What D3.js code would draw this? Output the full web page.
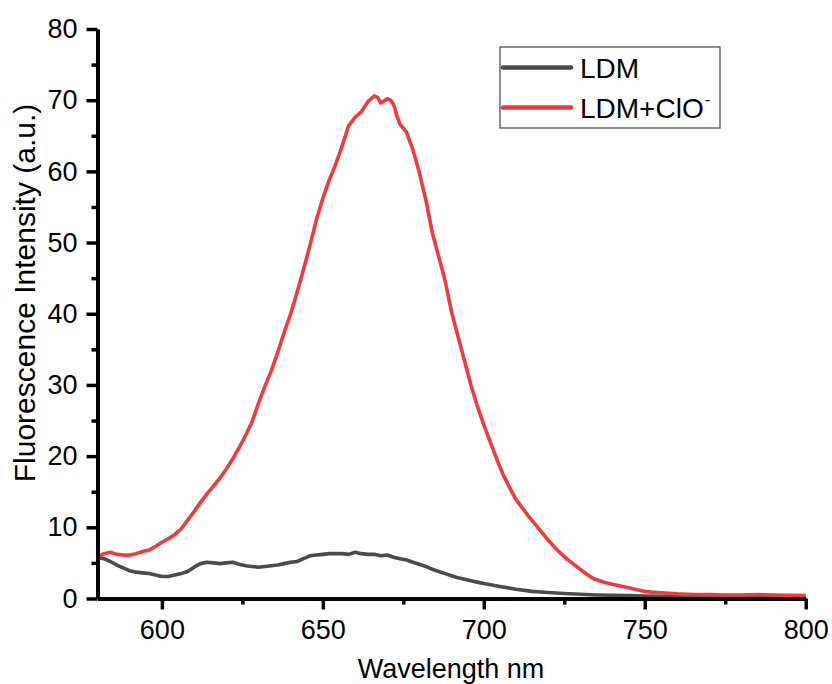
<!DOCTYPE html>
<html>
<head>
<meta charset="utf-8">
<script src="https://d3js.org/d3.v7.min.js"></script>
<style>
body { margin: 0; background: #fff; }
text { font-family: Arial, "Liberation Sans", sans-serif; }
</style>
</head>
<body>
<div id="chart"></div>
<script>
// spectra
var ldmX = [580,582,584,586,588,590,592,594,596,598,600,602,604,606,608,610,612,614,616,618,620,622,624,626,628,630,632,634,636,638,640,642,644,646,648,650,652,654,656,658,660,662,664,666,668,670,672,674,676,678,680,682,684,686,688,690,692,694,696,698,700,705,710,715,720,725,730,735,740,745,750,755,760,770,780,790,800];
var ldmY = [5.8,5.6,5.2,4.7,4.3,3.9,3.7,3.6,3.5,3.3,3.1,3.1,3.3,3.5,3.8,4.4,4.9,5.1,5.0,4.9,5.0,5.1,4.8,4.6,4.5,4.4,4.5,4.6,4.7,4.9,5.1,5.2,5.6,6.0,6.1,6.2,6.3,6.3,6.3,6.2,6.5,6.3,6.2,6.2,6.0,6.1,5.8,5.6,5.4,5.1,4.8,4.5,4.1,3.8,3.5,3.2,2.9,2.7,2.5,2.3,2.1,1.7,1.3,1.0,0.85,0.7,0.6,0.5,0.45,0.4,0.35,0.3,0.3,0.25,0.25,0.2,0.2];

var cloX = [580,582,584,586,588,590,592,594,596,598,600,602,604,606,608,610,612,614,616,618,620,622,624,626,628,630,632,634,636,638,640,642,644,646,648,650,652,654,656,658,660,662,664,666,667,668,669,670,671,672,673,674,676,678,680,682,684,686,688,690,692,694,696,698,700,702,704,706,708,710,712,714,716,718,720,722,724,726,728,730,732,734,736,738,740,742,744,746,748,750,752,755,760,765,770,775,780,785,790,795,800];
var cloY = [5.8,6.3,6.5,6.2,6.1,6.1,6.3,6.6,6.8,7.3,7.9,8.4,9.0,9.8,11.0,12.2,13.5,14.7,15.8,16.9,18.2,19.6,21.2,22.9,24.8,27.4,29.8,32.0,34.6,37.4,40.0,43.0,46.2,49.6,53.2,56.2,58.8,61.0,63.6,66.4,67.6,68.4,69.8,70.6,70.4,69.6,69.9,70.2,70.0,69.4,67.8,66.6,65.5,63.0,59.8,56.0,51.4,48.0,44.6,40.2,36.8,33.4,30.0,27.0,24.4,22.0,19.6,17.4,15.6,13.9,12.7,11.5,10.4,9.3,8.2,7.2,6.3,5.5,4.8,4.1,3.4,2.8,2.5,2.2,2.0,1.8,1.6,1.4,1.2,1.0,0.9,0.8,0.65,0.56,0.55,0.5,0.5,0.55,0.5,0.45,0.4];

var xTicks = [600,650,700,750,800];
var yTicks = [0,10,20,30,40,50,60,70,80];
var names = ["LDM","LDM+ClO"];
var colors = ["#4b4b4b","#ef3b3d"];

var W = 832, H = 684;
var svg = d3.select("#chart").append("svg").attr("width",W).attr("height",H);

var x = d3.scaleLinear().domain([580,800]).range([97.5,805.7]);
var y = d3.scaleLinear().domain([0,80]).range([598.5,29]);

var line = d3.line().x(function(d){return x(d[0]);}).y(function(d){return y(d[1]);});

var series = [d3.zip(ldmX,ldmY), d3.zip(cloX,cloY)];
series.forEach(function(s,i){
    svg.append("path").datum(s)
        .attr("d",line)
        .attr("fill","none")
        .attr("stroke",colors[i])
        .attr("stroke-width",3.6)
        .attr("stroke-linejoin","round");
});

// minor ticks
var xMinor = d3.range(625,800,50);
var yMinor = d3.range(5,80,10);
svg.append("g").attr("transform","translate(0,598.5)")
    .call(d3.axisBottom(x).tickValues(xMinor).tickSize(6).tickFormat(""))
    .call(function(g){ g.select(".domain").remove(); g.selectAll("line").attr("stroke-width",3.5); });
svg.append("g").attr("transform","translate(97.5,0)")
    .call(d3.axisLeft(y).tickValues(yMinor).tickSize(6).tickFormat(""))
    .call(function(g){ g.select(".domain").remove(); g.selectAll("line").attr("stroke-width",3.5); });

var xAxis = svg.append("g").attr("transform","translate(0,598.5)")
    .call(d3.axisBottom(x).tickValues(xTicks).tickSize(11).tickSizeOuter(0).tickPadding(8));
var yAxis = svg.append("g").attr("transform","translate(97.5,0)")
    .call(d3.axisLeft(y).tickValues(yTicks).tickSize(11).tickSizeOuter(0).tickPadding(9));

[xAxis,yAxis].forEach(function(g){
    g.select(".domain").attr("stroke-width",4);
    g.selectAll(".tick line").attr("stroke-width",3.5);
    g.selectAll(".tick text").style("font-size","27px").attr("fill","#000");
});
xAxis.selectAll(".tick text").attr("dy","0.78em");

svg.append("text")
    .attr("x",451).attr("y",678)
    .attr("text-anchor","middle")
    .style("font-size","27px")
    .text("Wavelength nm");

svg.append("text")
    .attr("transform","translate(35,293) rotate(-90)")
    .attr("text-anchor","middle")
    .style("font-size","30px")
    .text("Fluorescence Intensity (a.u.)");

// legend
var leg = svg.append("g");
leg.append("rect").attr("x",500).attr("y",47).attr("width",220).attr("height",81)
    .attr("fill","#fff").attr("stroke","#444").attr("stroke-width",1.2);
names.forEach(function(n,i){
    var ly = 67.5 + i*40;
    leg.append("line").attr("x1",503).attr("x2",571).attr("y1",ly).attr("y2",ly)
        .attr("stroke",colors[i]).attr("stroke-width",4.5).attr("stroke-linecap","round");
    var t = leg.append("text").attr("x",580).attr("y",ly+10.5).style("font-size","28px").text(n);
    if (i==1) t.append("tspan").attr("dx",1).attr("dy",-13).style("font-size","17px").text("-");
});
</script>
</body>
</html>
